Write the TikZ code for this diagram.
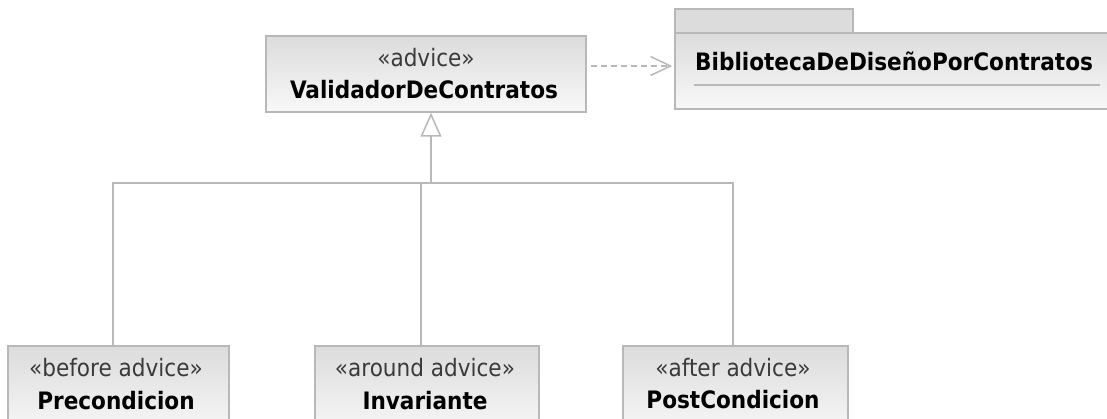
\documentclass[tikz,border=0pt]{standalone}
\usepackage{fontspec}
\setmainfont{DejaVu Sans Condensed}
\usetikzlibrary{arrows.meta,positioning,calc}
\definecolor{edge}{HTML}{B8B8B8}
\definecolor{topfill}{HTML}{DCDCDC}
\definecolor{botfill}{HTML}{F8F8F8}
\definecolor{stereo}{HTML}{3A3A3A}
\tikzset{
  umlbox/.style={draw=edge, line width=1.5pt, top color=topfill, bottom color=botfill, inner sep=0pt},
  tabbox/.style={draw=edge, line width=1.5pt, fill=topfill, inner sep=0pt},
  conn/.style={draw=edge, line width=1.5pt},
  stereotxt/.style={font=\fontsize{24}{28}\selectfont, text=stereo, inner sep=0pt},
  nametxt/.style={font=\fontsize{24}{28}\selectfont\bfseries, text=black, inner sep=0pt},
}
\begin{document}
\begin{tikzpicture}[x=1pt,y=-1pt]
\useasboundingbox (0,0) rectangle (1107,419);
\clip (0,0) rectangle (1107,419);
% top class
\node[umlbox, minimum width=320pt, minimum height=76pt] (val) at (426,74) {};
\node[stereotxt] (valst) at (426,58) {«advice»};
\node[nametxt] (valnm) at (424,90) {ValidadorDeContratos};
% package
\node[tabbox, minimum width=178pt, minimum height=24pt] (tab) at (764,21) {};
\node[umlbox, minimum width=440pt, minimum height=76pt] (pkg) at (895,71) {};
\node[nametxt, anchor=west] (pkgnm) at (695,61) {BibliotecaDeDiseñoPorContratos};
\coordinate (ln1) at (694,85);
\coordinate (ln2) at (1100,85);
\draw[conn] (ln1) -- (ln2);
% bottom classes
\node[umlbox, minimum width=221pt, minimum height=90pt] (pre) at (118.5,391) {};
\node[stereotxt] (prest) at (116,368) {«before advice»};
\node[nametxt] (prenm) at (116,401) {Precondicion};
\node[umlbox, minimum width=224pt, minimum height=90pt] (inv) at (427,391) {};
\node[stereotxt] (invst) at (425,368) {«around advice»};
\node[nametxt] (invnm) at (425,401) {Invariante};
\node[umlbox, minimum width=225pt, minimum height=90pt] (post) at (735.5,391) {};
\node[stereotxt] (postst) at (733,368) {«after advice»};
\node[nametxt] (postnm) at (733,400) {PostCondicion};
% generalization
\coordinate (junc) at (431,183);
\coordinate (prej) at (113,183);
\coordinate (invj) at (421,183);
\coordinate (postj) at (733,183);
\draw[conn] (prej |- pre.north) -- (prej) -- (postj) -- (postj |- post.north);
\draw[conn] (invj) -- (invj |- inv.north);
\draw[conn, -{Triangle[open, length=24pt, width=21pt, fill=white]}] (junc) -- (junc |- val.south);
% dependency
\draw[conn, dash pattern=on 6pt off 4pt, -{Straight Barb[length=20pt, width=19pt]}] ([xshift=4pt,yshift=8pt]val.east) -- ([xshift=-2pt,yshift=5pt]pkg.west);
\end{tikzpicture}
\end{document}
